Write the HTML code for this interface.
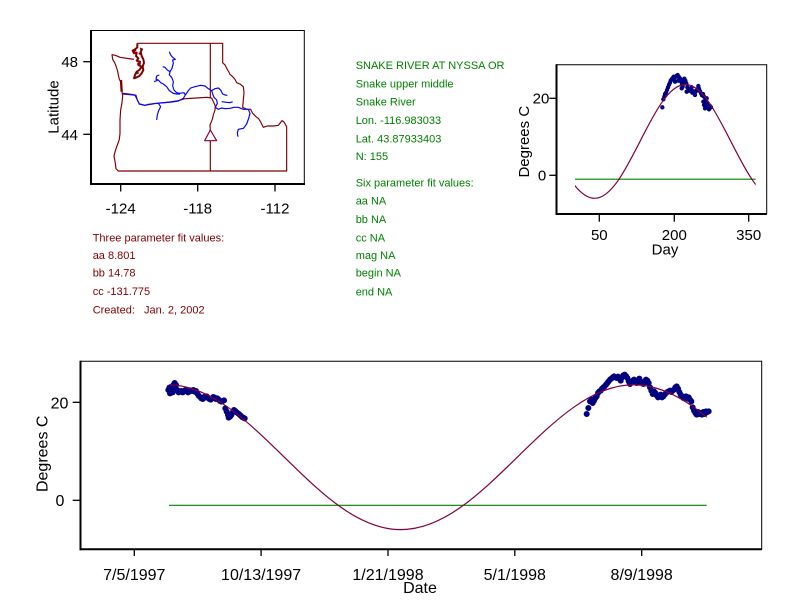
<!DOCTYPE html>
<html><head><meta charset="utf-8"><style>
html,body{margin:0;padding:0;background:#fff;}
svg{display:block;}
text{font-family:"Liberation Sans",Arial,sans-serif;}
</style></head><body>
<svg width="792" height="611" viewBox="0 0 792 611" xmlns="http://www.w3.org/2000/svg">
<rect width="792" height="611" fill="#fff"/>
<defs>
<clipPath id="cTop"><rect x="575" y="60" width="180.7" height="160"/></clipPath>
<clipPath id="cBot"><rect x="169" y="360" width="537.7" height="190"/></clipPath>
</defs>

<!-- ================= MAP ================= -->
<g fill="none" stroke="#000">
<line x1="90.7" y1="30.5" x2="304.3" y2="30.5" stroke-width="1"/>
<line x1="304.3" y1="30" x2="304.3" y2="184" stroke-width="1"/>
<line x1="91" y1="30" x2="91" y2="185" stroke-width="2"/>
<line x1="90" y1="184" x2="305" y2="184" stroke-width="2"/>
<line x1="120.7" y1="184" x2="120.7" y2="191.5" stroke-width="1.3"/>
<line x1="197.7" y1="184" x2="197.7" y2="191.5" stroke-width="1.3"/>
<line x1="275" y1="184" x2="275" y2="191.5" stroke-width="1.3"/>
<line x1="83.3" y1="61.7" x2="91" y2="61.7" stroke-width="1.3"/>
<line x1="83.3" y1="134.3" x2="91" y2="134.3" stroke-width="1.3"/>
</g>
<g font-size="15" fill="#000" text-anchor="middle">
<text x="120.7" y="213.3">-124</text>
<text x="197.7" y="213.3">-118</text>
<text x="275" y="213.3">-112</text>
<text x="69.7" y="67.2">48</text>
<text x="69.7" y="139.8">44</text>
<text transform="translate(58.3 107) rotate(-90)">Latitude</text>
</g>
<g transform="translate(30 20) scale(0.33333)" fill="none" stroke-linejoin="round">
<g stroke="#800000" stroke-width="3.5">
<path d="M322 70 L578 70 L578 128 L586 136 L590 145 L596 155 L600 163 L608 170 L615 178 L620 188 L630 192 L640 200 L642 218 L640 240 L638 262 L650 268 L662 268 L668 280 L678 290 L686 296 L692 306 L700 322 L712 318 L730 318 L745 316 L756 302 L762 306 L770 320 L770 453 L265 453 L258 446 L256 430 L252 408 L256 392 L262 375 L268 358 L270 340 L270 300 L272 270 L276 248 L278 228 L276 215 L274 200 L272 185 L268 178 L265 165 L262 150 L258 138 L254 128 L248 118 L246 104 L256 106 L270 112 L290 115 L305 117 L312 118"/>
<path d="M322 70 L322 82 L315 88 L308 92 L312 100 L320 98 L318 108 L325 115 L320 122 L330 125 L325 135 L335 140 L328 150 L320 155 L315 165 L312 175 L320 172 L328 168 L335 160 L340 150 L338 140 L342 128 L340 118 L335 108 L332 95 L336 88 L330 85" stroke-width="6"/>
<path d="M310 95 L318 90 M326 100 L334 102 M322 130 L332 132 M316 160 L326 158" stroke-width="6"/>
<path d="M273 180 L275 215" stroke-width="7"/>
<path d="M278 222 L300 224 L318 226 L322 240 L328 252 L345 256 L380 250 L420 246 L445 242 L465 236 L500 234 L530 232 L545 234"/>
<path d="M545 234 L550 245 L556 258 L555 270 L550 285 L547 298 L540 315 L541 332"/>
<path d="M541 70 L541 234 M541 362 L541 453"/>
</g>
<path d="M541 330 L524 362 L560 362 Z" stroke="#800040" stroke-width="3.5"/>
<g stroke="#0000ff" stroke-width="3.5">
<path d="M278 220 L295 222 L315 225 L322 240 L328 252 L345 256 L355 253 L380 250 L405 248 L425 246 L445 243 L460 235 L466 225"/>
<path d="M466 225 L462 218 L450 220 L440 218 L432 210 L428 198 L430 185 L425 172 L418 165 L420 155 L426 145 L430 130 L428 120 L436 118 L428 112 L422 105 L418 95"/>
<path d="M420 155 L412 150 L405 142 L398 140"/>
<path d="M450 222 L440 222 L430 220 L418 212 L410 200 L400 192 L392 188 L385 180 L378 178 L380 168 L388 165 M385 180 L372 185"/>
<path d="M466 225 L475 212 L482 204 L495 200 L512 196 L525 198 L535 206 L545 212 L555 206 L565 204 L572 210 L578 222 L585 225 L592 226"/>
<path d="M545 212 L548 222 L552 232 L560 240 L562 250 L556 262 L565 268 L575 264 L585 266 L600 265 L612 262 L625 262 L640 268 L655 268 L660 280 L656 295 L650 312 L640 325 L625 328 L622 338 L624 350"/>
<path d="M575 245 L590 247 L600 248 L608 245"/>
<path d="M385 250 L392 260 L386 272 L382 285 L380 300"/>
</g>
</g>

<!-- ================= TEXT BLOCKS ================= -->
<g font-size="11" fill="#800000">
<text x="92.7" y="241.3">Three parameter fit values:</text>
<text x="92.7" y="259">aa 8.801</text>
<text x="92.7" y="276.7">bb 14.78</text>
<text x="92.7" y="295">cc -131.775</text>
<text x="92.7" y="313.3" xml:space="preserve">Created:   Jan. 2, 2002</text>
</g>
<g font-size="11" fill="#008000">
<text x="355.7" y="69">SNAKE RIVER AT NYSSA OR</text>
<text x="355.7" y="87.3">Snake upper middle</text>
<text x="355.7" y="105.3">Snake River</text>
<text x="355.7" y="124">Lon. -116.983033</text>
<text x="355.7" y="142.3">Lat. 43.87933403</text>
<text x="355.7" y="160">N: 155</text>
<text x="355.7" y="186.7">Six parameter fit values:</text>
<text x="355.7" y="204.7">aa NA</text>
<text x="355.7" y="223">bb NA</text>
<text x="355.7" y="241.3">cc NA</text>
<text x="355.7" y="259">mag NA</text>
<text x="355.7" y="276.7">begin NA</text>
<text x="355.7" y="295.7">end NA</text>
</g>

<!-- ================= TOP-RIGHT CHART ================= -->
<g fill="none" stroke="#000">
<line x1="556" y1="64.8" x2="766.7" y2="64.8" stroke-width="1"/>
<line x1="766.7" y1="64.3" x2="766.7" y2="214" stroke-width="1"/>
<line x1="556.5" y1="64.3" x2="556.5" y2="215" stroke-width="2"/>
<line x1="555.5" y1="214" x2="767" y2="214" stroke-width="2"/>
<line x1="599.3" y1="214" x2="599.3" y2="221.7" stroke-width="1.3"/>
<line x1="674.3" y1="214" x2="674.3" y2="221.7" stroke-width="1.3"/>
<line x1="748.7" y1="214" x2="748.7" y2="221.7" stroke-width="1.3"/>
<line x1="549.3" y1="98.3" x2="556" y2="98.3" stroke-width="1.3"/>
<line x1="549.3" y1="175.3" x2="556" y2="175.3" stroke-width="1.3"/>
</g>
<g font-size="15" fill="#000" text-anchor="middle">
<text x="599.3" y="240">50</text>
<text x="674.3" y="240">200</text>
<text x="748.7" y="240">350</text>
<text x="665" y="254.7">Day</text>
<text x="541" y="103.3">20</text>
<text x="542" y="180.7">0</text>
<text transform="translate(529 141.7) rotate(-90)">Degrees C</text>
</g>
<g transform="translate(510 50) scale(0.33333)">
<path fill="none" stroke="#000080" stroke-width="13" stroke-linecap="round" d="M457 172h.1M460 148h.1M463 140h.1M465 132h.1M468 128h.1M471 120h.1M474 112h.1M477 104h.1M480 98h.1M482 92h.1M485 88h.1M488 84h.1M491 80h.1M494 84h.1M497 80h.1M500 77h.1M503 75h.1M506 80h.1M509 84h.1M512 88h.1M514 96h.1M516 104h.1M518 110h.1M520 90h.1M523 86h.1M526 92h.1M529 100h.1M532 112h.1M535 118h.1M538 122h.1M541 116h.1M544 124h.1M547 128h.1M550 124h.1M553 130h.1M556 126h.1M559 122h.1M562 118h.1M565 108h.1M567 116h.1M570 124h.1M573 130h.1M576 136h.1M579 132h.1M582 140h.1M580 155h.1M582 165h.1M585 175h.1M588 170h.1M591 160h.1M594 172h.1M597 178h.1M600 168h.1M603 172h.1M586 150h.1M590 145h.1M495 95h.1M505 92h.1M525 100h.1M545 112h.1M515 115h.1M530 125h.1M555 135h.1"/>
</g>
<line x1="575" y1="179.2" x2="755.7" y2="179.2" stroke="#008000" stroke-width="1.2"/>
<path clip-path="url(#cTop)" fill="none" stroke="#800040" stroke-width="1.2" d="M549.1 141.42 C563.92 170.57 578.09 198.32 594.57 198.32 C611.01 198.32 625.18 170.57 640 141.42 C654.82 112.27 668.99 84.52 685.43 84.52 C701.87 84.52 716.04 112.27 730.86 141.42 C745.68 170.57 759.85 198.32 776.29 198.32"/>

<!-- ================= BOTTOM CHART ================= -->
<g fill="none" stroke="#000">
<line x1="80" y1="361.2" x2="761.7" y2="361.2" stroke-width="1"/>
<line x1="761.7" y1="360.7" x2="761.7" y2="549.3" stroke-width="1"/>
<line x1="80.5" y1="360.7" x2="80.5" y2="550.3" stroke-width="2"/>
<line x1="79.5" y1="549.3" x2="762" y2="549.3" stroke-width="2"/>
<line x1="134.3" y1="549.3" x2="134.3" y2="556" stroke-width="1.3"/>
<line x1="261.1" y1="549.3" x2="261.1" y2="556" stroke-width="1.3"/>
<line x1="388" y1="549.3" x2="388" y2="556" stroke-width="1.3"/>
<line x1="514.8" y1="549.3" x2="514.8" y2="556" stroke-width="1.3"/>
<line x1="641.7" y1="549.3" x2="641.7" y2="556" stroke-width="1.3"/>
<line x1="72.7" y1="402.3" x2="80" y2="402.3" stroke-width="1.3"/>
<line x1="72.7" y1="500.3" x2="80" y2="500.3" stroke-width="1.3"/>
</g>
<g font-size="16" fill="#000" text-anchor="middle">
<text x="134.3" y="580">7/5/1997</text>
<text x="261.1" y="580">10/13/1997</text>
<text x="388" y="580">1/21/1998</text>
<text x="514.8" y="580">5/1/1998</text>
<text x="641.7" y="580">8/9/1998</text>
<text x="420" y="593">Date</text>
<text x="59.5" y="408.5">20</text>
<text x="60" y="506">0</text>
<text transform="translate(47.5 453.8) rotate(-90)">Degrees C</text>
</g>
<g transform="translate(160 375) scale(0.33333)">
<path fill="none" stroke="#000080" stroke-width="18" stroke-linecap="round" d="M25 45h.1M28 38h.1M32 42h.1M36 40h.1M40 30h.1M44 24h.1M48 30h.1M30 55h.1M38 52h.1M52 45h.1M56 52h.1M60 50h.1M64 48h.1M68 52h.1M72 48h.1M76 45h.1M80 48h.1M84 52h.1M88 50h.1M92 46h.1M96 48h.1M100 45h.1M104 50h.1M108 48h.1M112 56h.1M116 62h.1M120 66h.1M124 70h.1M128 72h.1M132 66h.1M136 68h.1M140 64h.1M144 68h.1M148 72h.1M152 74h.1M156 70h.1M160 66h.1M164 68h.1M168 72h.1M172 70h.1M176 74h.1M180 78h.1M184 80h.1M188 78h.1M192 76h.1M196 100h.1M200 110h.1M204 120h.1M206 128h.1M210 125h.1M214 120h.1M218 112h.1M222 105h.1M226 108h.1M230 112h.1M234 115h.1M238 118h.1M242 122h.1M246 126h.1M250 128h.1M254 130h.1"/>
</g>
<g transform="translate(580 368) scale(0.33333)">
<path fill="none" stroke="#000080" stroke-width="18" stroke-linecap="round" d="M20 138h.1M25 120h.1M30 100h.1M34 95h.1M38 105h.1M42 98h.1M46 90h.1M50 85h.1M54 75h.1M58 70h.1M62 68h.1M66 62h.1M70 58h.1M74 55h.1M78 50h.1M82 45h.1M86 40h.1M90 35h.1M94 32h.1M98 28h.1M102 25h.1M106 28h.1M110 30h.1M114 26h.1M118 32h.1M122 38h.1M126 28h.1M130 22h.1M134 20h.1M138 24h.1M142 30h.1M146 40h.1M150 48h.1M154 42h.1M158 38h.1M162 35h.1M166 40h.1M170 45h.1M174 38h.1M178 32h.1M182 40h.1M186 45h.1M190 48h.1M194 42h.1M198 35h.1M202 38h.1M206 45h.1M210 58h.1M214 68h.1M218 78h.1M222 70h.1M226 75h.1M230 82h.1M234 88h.1M238 85h.1M242 80h.1M246 88h.1M250 85h.1M254 80h.1M258 75h.1M262 72h.1M266 70h.1M270 68h.1M274 72h.1M278 68h.1M282 65h.1M286 58h.1M290 55h.1M294 62h.1M298 72h.1M302 80h.1M306 85h.1M310 90h.1M314 88h.1M318 85h.1M322 92h.1M326 88h.1M330 95h.1M334 100h.1M338 118h.1M342 128h.1M346 135h.1M350 140h.1M354 132h.1M358 138h.1M362 135h.1M366 140h.1M370 132h.1M374 138h.1M378 130h.1M382 132h.1M386 130h.1"/>
</g>
<line x1="169" y1="505.3" x2="706.7" y2="505.3" stroke="#008000" stroke-width="1.2"/>
<path clip-path="url(#cBot)" fill="none" stroke="#800040" stroke-width="1.2" d="M51.3 457.18 C89.3 420.08 125.64 384.76 167.8 384.76 C209.96 384.76 246.3 420.08 284.3 457.18 C322.3 494.28 358.64 529.6 400.8 529.6 C442.96 529.6 479.3 494.28 517.3 457.18 C555.3 420.08 591.64 384.76 633.8 384.76 C675.96 384.76 712.3 420.08 750.3 457.18"/>
</svg>
</body></html>
